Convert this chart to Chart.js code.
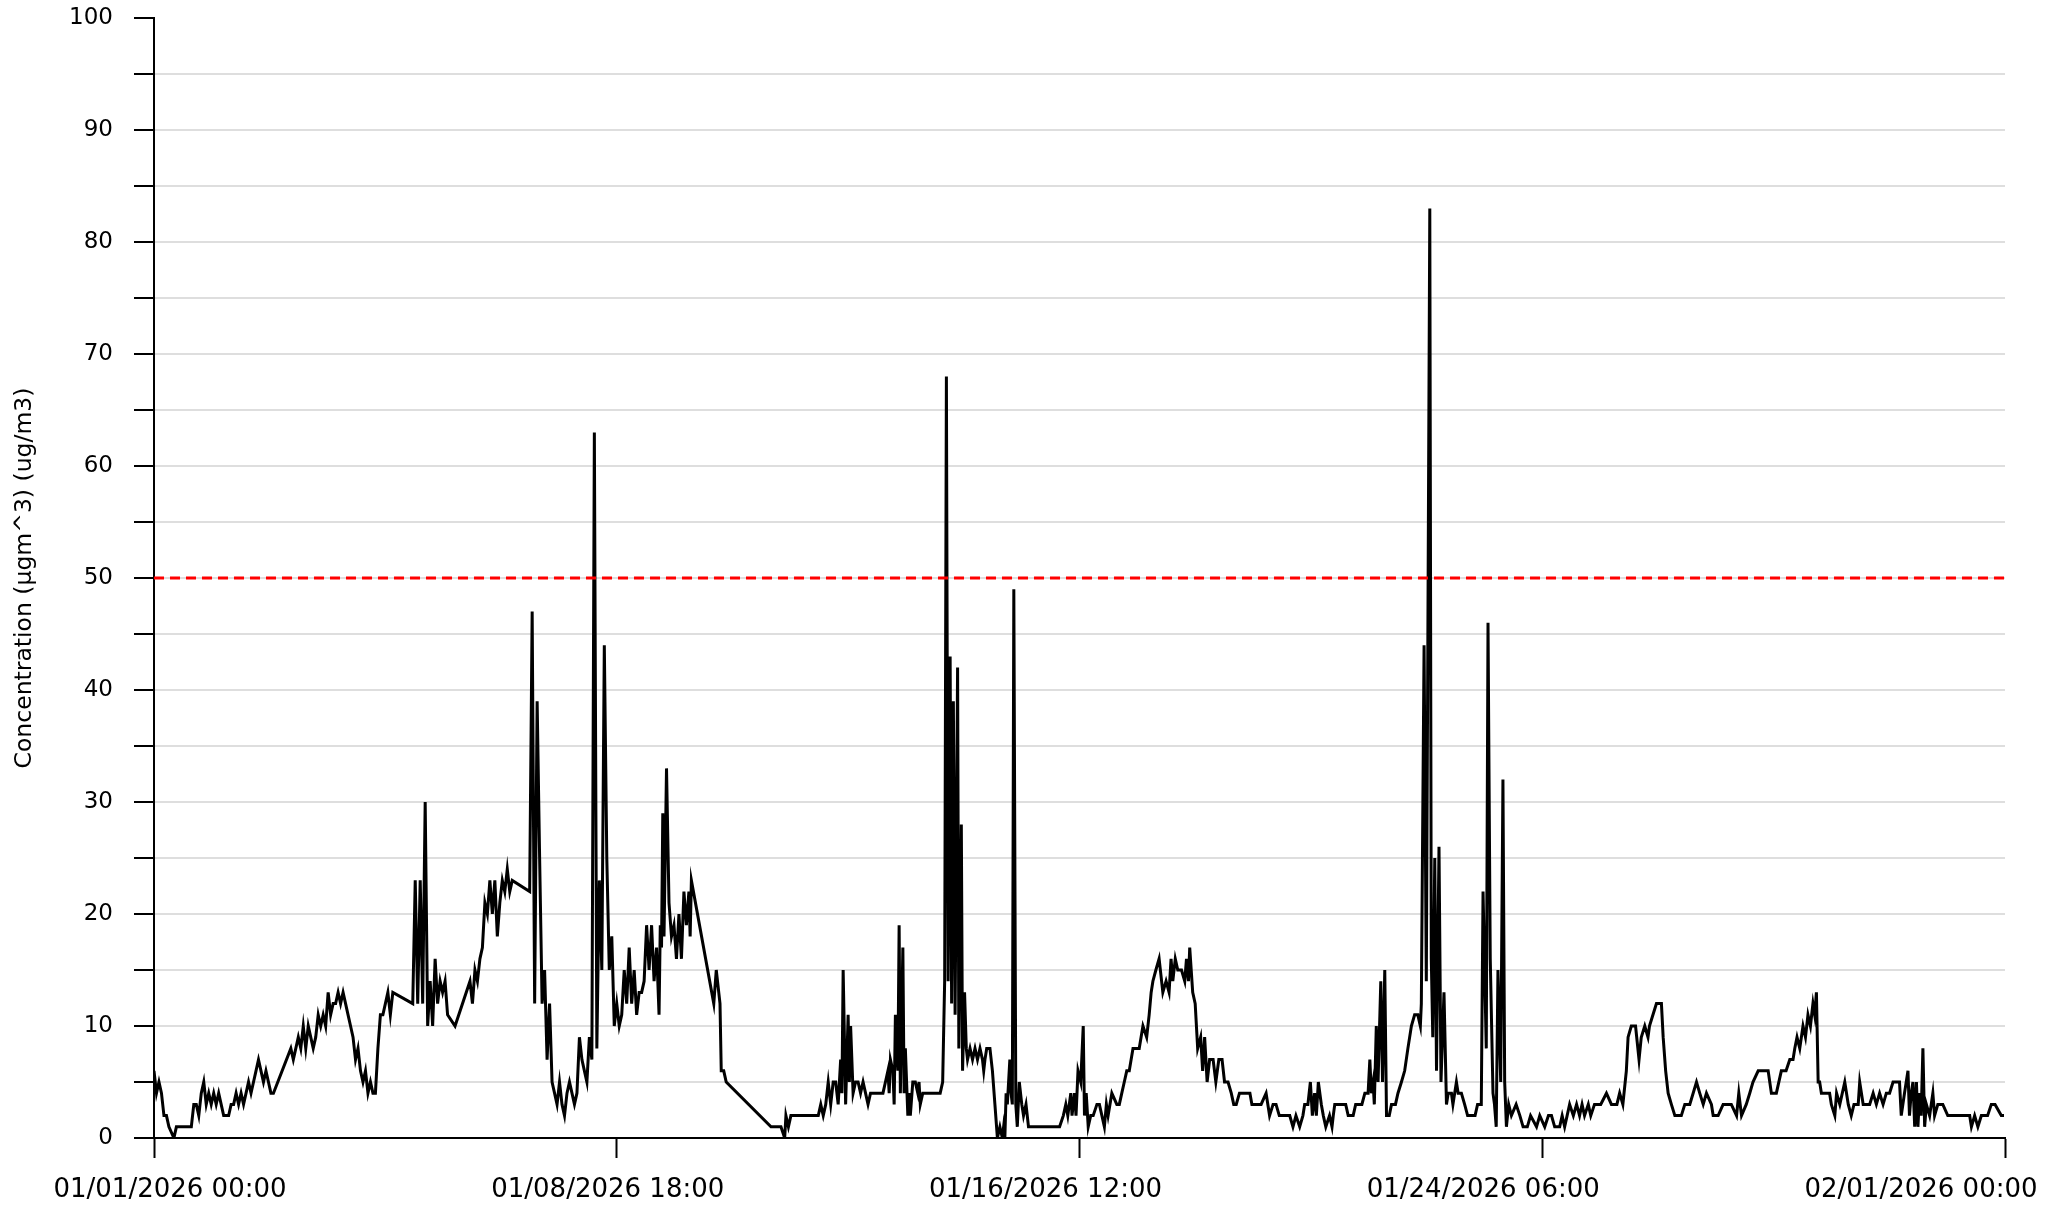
<!DOCTYPE html>
<html>
<head>
<meta charset="utf-8">
<script src="https://cdn.jsdelivr.net/npm/chart.js@4/dist/chart.umd.min.js"></script>
<style>
  html, body { margin: 0; padding: 0; background: #fff; }
  #wrap { width: 2067px; height: 1208px; }
</style>
</head>
<body>
<div id="wrap"><canvas id="chart" width="2067" height="1208"></canvas></div>
<script>
// hours since 01/01/2026 00:00, concentration
const samples = [
  [0,6],[1,4],[2,5],[3,4],[4,2],[5,2],[6,1],[8,0],[9,1],[15,1],[16,3],[17,3],[18,2],[19,4],[20,5],[21,3],[22,4],[23,3],[24,4],[25,3],[26,4],[27,3],[28,2],[29,2],[30,2],[31,3],[32,3],[33,4],[34,3],[35,4],[36,3],[37,4],[38,5],[39,4],[40,5],[41,6],[42,7],[43,6],[44,5],[45,6],[46,5],[47,4],[48,4],
  [55,8],[56,7],[57,8],[58,9],[59,8],[60,10],[61,8],[62,10],[63,9],[64,8],[65,9],[66,11],[67,10],[68,11],[69,10],[70,13],[71,11],[72,12],[73,12],[74,13],[75,12],[76,13],[77,12],[78,11],[79,10],[80,9],[81,7],[82,8],[83,6],[84,5],[85,6],[86,4],[87,5],[88,4],[89,4],[90,8],[91,11],[92,11],[93,12],[94,13],[95,11],[96,13],
  [104,12],[105,23],[106,12],[107,23],[108,12],[109,30],[110,10],[111,14],[112,10],[113,16],[114,12],[115,14],[116,13],[117,14],[118,11],[121,10],[127,14],[128,12],[129,15],[130,14],[131,16],[132,17],[133,21],[134,20],[135,23],[136,20],[137,23],[138,18],[139,21],[140,23],[141,22],[142,24],[143,22],[144,23],
  [151,22],[152,47],[153,12],[154,39],[155,25],[156,12],[157,15],[158,7],[159,12],[160,5],[161,4],[162,3],[163,5],[164,3],[165,2],[166,4],[167,5],[168,4],[169,3],[170,4],[171,9],[172,7],[173,6],[174,5],[175,9],[176,7],[177,63],[178,8],[179,23],[180,15],[181,44],[182,25],[183,15],[184,18],[185,10],[186,12],[187,10],[188,11],
  [189,15],[190,12],[191,17],[192,12],[193,15],[194,11],[195,13],[196,13],[197,14],[198,19],[199,15],[200,19],[201,14],[202,17],[203,11],[203.5,19],[204,17],[204.5,29],[205,18],[206,33],[207,21],[208,18],[209,19],[210,16],[211,20],[212,16],[213,22],[214,19],[215,22],[215.5,18],[216,23],
  [225,12],[226,15],[227,13],[227.5,12],[228,6],[229,6],[230,5],[248,1],[252,1],[253.5,0],[254,2],[255,1],[256,2],[267,2],[268,3],[269,2],[270,3],[271,5],[272,3],[273,5],[274,5],[275,3],[276,7],[276.5,4],[277,15],[278,3],[279,11],[279.5,5],[280,10],[281,4],[282,5],[283,5],
  [284,4],[285,5],[286,4],[287,3],[288,4],[293,4],[294,5],[295,6],[295.5,4],[296,7],[297,6],[297.5,3],[298,11],[299,6],[299.5,19],[300,4],[301,17],[301.5,4],[302,8],[303,2],[303.5,4],[304,2],[305,5],[306,5],[307,4],[307.5,5],[308,3],[309,4],
  [316,4],[317,5],[317.8,14],[318.5,68],[319.2,14],[320,43],[320.6,12],[321.3,39],[322,11],[323,42],[323.5,8],[324.5,28],[325,6],[325.8,13],[326.5,8],[327,7],[328,8],[329,7],[330,8],[331,7],[332,8],[333,7],[333.5,6],[334,7],[334.7,8],[336,8],[337,6],[338,3],[339,0],[340,1],[341,0],[341.5,1],[342,0],[342.5,4],[343,3],[344,7],[344.5,4],[345,3],[345.6,49],[346.4,3],[347,1],[347.8,5],[348.8,3],[349.5,2],[350.5,3],[351.5,1],
  [364,1],[365.5,2],[366.5,3],[367.3,2],[368.5,4],[369,2],[370,4],[370.6,2],[371.4,6],[372.5,5],[373.5,10],[374,2],[374.7,4],[375.5,1],[376.5,2],[377.5,2],
  [379,3],[380,3],[381,2],[382,1],[382.8,3],[383.5,2],[385,4],[387,3],[388,3],[389,4],[390,5],[391,6],[392,6],[393.5,8],[395,8],[396,8],[397.5,10],[399,9],[400,11],[400.8,13],[401.5,14],[402.7,15],[404,16],[405.5,13],[406.8,14],[408,13],[408.8,16],[409.5,14],[410.5,16],[411.5,15],[413,15],[414.3,14],[415,16],[415.8,14],[416.3,17],[417.5,13],[418.5,12],[419.5,8],[420.7,9],[421.5,6],[422.3,9],[423.3,5],[424.3,7],[425.7,7],[426.8,5],[428,7],[429.3,7],[430.3,5],[431.7,5],[433,4],[434,3],[435,3],[436.3,4],[439,4],[440.5,4],[441.3,3],[443,3],[445,3],[447,4],[448.4,2],[449.8,3],[451,3],[452.3,2],[455,2],[456.5,2],[457.8,1],[459,2],[460.5,1],[461.8,2],[462.5,3],[463.8,3],[464.8,5],[465.6,2],[466.5,4],[467.2,2],[468,5],[469.2,3],[470,2],[471,1],[472.5,2],
  [473.5,1],[474,2],[474.6,3],[477,3],[479,3],[480,2],[482,2],[483,3],[485.5,3],[486.7,4],[488,4],[488.7,7],[489.3,4],[490,5],[490.5,3],[491.3,10],[492,5],[493.1,14],[493.8,5],[494.7,15],[495.4,2],[496.5,2],[497.4,3],[499,3],[500,4],[501.4,5],[502.7,6],[504,8],[505.4,10],[506.7,11],[508,11],[509,10],[509.4,12],[510.5,44],[511.4,14],[512.8,83],[513.4,16],[514,9],[514.8,25],[515.5,6],[516.5,26],[517.3,5],[518.5,13],[519.5,3],[520.2,4],[521.5,4],[522.1,3],[523.5,5],[524.2,4],[525.5,4],[526.8,3],[528,2],[529.5,2],[531,2],[532,3],[533.5,3],
  [534.2,22],[535.5,8],[536.2,46],[537.1,16],[538.2,4],[538.8,3],[539.5,1],[540.2,15],[541.3,5],[542.2,32],[542.9,5],[543.6,1],[544.5,3],[545.6,2],[547.5,3],[549,2],[550.3,1],[552,1],[553.3,2],[555.7,1],[557,2],[559,1],[560.5,2],[561.7,2],[563,1],[565,1],[566,2],
  [567,1],[568,2],[569,3],[570.5,2],[571.8,3],[573,2],[574,3],[575,2],[576.5,3],[577.5,2],[579,3],[581.5,3],[583.8,4],[585.8,3],[588,3],[589.1,4],[590.4,3],[591.8,6],[592.5,9],[593.8,10],[595.5,10],[596.9,7],[597.8,9],[599.2,10],[600.5,9],[601.1,10],[602.5,11],[603.9,12],[605.9,12],[606.6,9],[607.6,6],[608.6,4],[609.9,3],[611.3,2],[613.9,2],[615.3,3],[617.3,3],[620,5],[621.3,4],[622.7,3],[624,4],[626,3],[626.7,2],[628.7,2],[630.7,3],[634,3],[636.1,2],[637,4],[638.1,2],[640,3],[641.4,4],[642.7,5],[644.8,6],[646.8,6],[648.8,6],[650.1,4],[652.1,4],[654.1,6],[656,6],[657.5,7],[658.8,7],[659.5,8],[660.4,9],
  [661.5,8],[662.8,10],[663.8,9],[664.8,11],[665.8,10],[666.8,12],[667.5,11],[668.2,13],[668.9,5],[669.5,5],[670.2,4],[673.5,4],[674.2,3],[675.6,2],[676.3,4],[677.6,3],[679.6,5],[681,3],[682.2,2],[683.3,3],[685,3],[685.6,5],[687,3],[688.3,3],[689.6,3],[691,4],[692.3,3],[693.6,4],[695,3],[696.3,4],[697.6,4],[699,5],[700.3,5],[701.6,5],[702.3,2],[703.6,4],[705,6],[705.6,2],[706.3,4],[707,5],[707.7,1],[708.4,5],[709,1],[709.7,4],[710.3,2],[711,8],[711.7,1],[712.4,3],[713.7,2],[715,4],[715.7,2],[717,3],[719,3],[721,2],[729.8,2],[730.5,1],[731.8,2],[733.1,1],[734.5,2],[737,2],[738.5,3],[740,3],[742.5,2],[743.6,2]
];

const limitValue = 50;
const periodHours = 744;       // 01/01 00:00 -> 02/01 00:00
const tickStepHours = 186;
const xTickLabels = ['01/01/2026 00:00', '01/08/2026 18:00', '01/16/2026 12:00', '01/24/2026 06:00', '02/01/2026 00:00'];
const yTitle = 'Concentration (µgm^3) (ug/m3)';

const FONT = '"DejaVu Sans", Verdana, sans-serif';

// dessine les étiquettes de l'axe x (légèrement resserrées comme dans l'original)
const xLabelsPlugin = {
    id: 'xLabels',
    afterDraw(chart) {
        const sc = chart.scales.x;
        const ctx = chart.ctx;
        ctx.save();
        ctx.font = '26px ' + FONT;
        ctx.fillStyle = '#000';
        ctx.textAlign = 'center';
        ctx.textBaseline = 'middle';
        xTickLabels.forEach((lbl, i) => {
            const px = sc.getPixelForValue(i * tickStepHours) + 16 - i * 25;
            ctx.fillText(lbl, px, sc.top + 52);
        });
        ctx.restore();
    }
};

new Chart(document.getElementById('chart'), {
    type: 'line',
    data: {
        datasets: [
            {
                label: 'limit',
                data: [{x: 0, y: limitValue}, {x: periodHours, y: limitValue}],
                borderColor: '#ff0000',
                borderWidth: 3,
                borderDash: [10, 6],
                pointRadius: 0
            },
            {
                label: 'concentration',
                data: samples.map(s => ({x: s[0], y: s[1]})),
                borderColor: '#000',
                borderWidth: 3,
                pointRadius: 0,
                tension: 0
            }
        ]
    },
    options: {
        responsive: false,
        animation: false,
        devicePixelRatio: 1,
        layout: { padding: { left: 0, top: 18, right: 62, bottom: 0 } },
        plugins: { legend: { display: false }, tooltip: { enabled: false } },
        scales: {
            x: {
                type: 'linear',
                min: 0,
                max: periodHours,
                ticks: { stepSize: tickStepHours, display: false },
                grid: { drawOnChartArea: false, drawTicks: true, tickLength: 20, tickColor: '#000', tickWidth: 2 },
                border: { color: '#000', width: 2 },
                afterFit: s => { s.height = 70; s.paddingLeft = 0; s.paddingRight = 0; }
            },
            y: {
                min: 0,
                max: 100,
                ticks: {
                    stepSize: 5,
                    padding: 21,
                    color: '#000',
                    font: { family: FONT, size: 23 },
                    callback: v => (v % 10 === 0 ? v : '')
                },
                grid: {
                    color: c => (c.tick && (c.tick.value === 0 || c.tick.value === 100) ? 'rgba(0,0,0,0)' : '#dedede'),
                    lineWidth: 2,
                    tickLength: 20,
                    tickColor: '#000',
                    tickWidth: 2
                },
                border: { color: '#000', width: 2 },
                title: {
                    display: true,
                    text: yTitle,
                    color: '#000',
                    font: { family: FONT, size: 23.5 },
                    padding: { top: 11, bottom: 0 }
                },
                afterFit: s => { s.width = 154; s.paddingTop = 0; s.paddingBottom = 0; }
            }
        }
    },
    plugins: [xLabelsPlugin]
});
</script>
</body>
</html>
